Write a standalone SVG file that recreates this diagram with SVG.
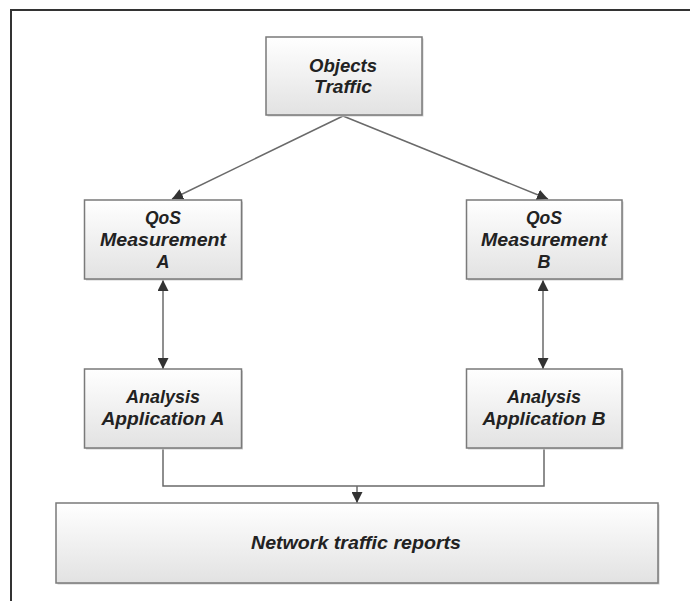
<svg xmlns="http://www.w3.org/2000/svg" width="690" height="601" viewBox="0 0 690 601">
<defs>
<linearGradient id="g" x1="0" y1="0" x2="0" y2="1">
<stop offset="0" stop-color="#ffffff"/>
<stop offset="1" stop-color="#e2e2e2"/>
</linearGradient>
<marker id="ah" viewBox="0 0 10 10" refX="10" refY="5" markerWidth="11" markerHeight="11" markerUnits="userSpaceOnUse" orient="auto-start-reverse">
<path d="M0,0 L10,5 L0,10 Z" fill="#333"/>
</marker>
<style>
.box{fill:url(#g);stroke:#7a7a7a;stroke-width:1.5}
.sh{fill:#cfcfcf}
.t{font-family:"Liberation Sans",Arial,sans-serif;font-weight:bold;font-style:italic;font-size:17.5px;fill:#222;text-anchor:middle}
.c{fill:none;stroke:#6a6a6a;stroke-width:1.5}
</style>
</defs>
<rect width="690" height="601" fill="#fff"/>
<path d="M11,601 V10 H690" fill="none" stroke="#333" stroke-width="2"/>
<g id="connectors">
<path class="c" d="M343,116 L172,199" marker-end="url(#ah)"/>
<path class="c" d="M343,116 L548,199" marker-end="url(#ah)"/>
<path class="c" d="M163,280 V369" marker-start="url(#ah)" marker-end="url(#ah)"/>
<path class="c" d="M543,280 V369" marker-start="url(#ah)" marker-end="url(#ah)"/>
<path class="c" d="M163,448 V486 H544 V448"/>
<path class="c" d="M357,486 V503" marker-end="url(#ah)"/>
</g>
<g id="objects-traffic">
<rect class="sh" x="267.5" y="38.5" width="156" height="78"/>
<rect class="box" x="266" y="37" width="156" height="78"/>
<text class="t" x="343" y="72" textLength="68" lengthAdjust="spacingAndGlyphs">Objects</text>
<text class="t" x="343" y="93" textLength="58" lengthAdjust="spacingAndGlyphs">Traffic</text>
</g>
<g id="qos-a">
<rect class="sh" x="86" y="201.5" width="157" height="79"/>
<rect class="box" x="84.5" y="200" width="157" height="79"/>
<text class="t" x="163" y="224" textLength="36" lengthAdjust="spacingAndGlyphs">QoS</text>
<text class="t" x="163" y="246" textLength="126" lengthAdjust="spacingAndGlyphs">Measurement</text>
<text class="t" x="163" y="268" textLength="13" lengthAdjust="spacingAndGlyphs">A</text>
</g>
<g id="qos-b">
<rect class="sh" x="468" y="201.5" width="155.5" height="79"/>
<rect class="box" x="466.5" y="200" width="155.5" height="79"/>
<text class="t" x="544" y="224" textLength="36" lengthAdjust="spacingAndGlyphs">QoS</text>
<text class="t" x="544" y="246" textLength="126" lengthAdjust="spacingAndGlyphs">Measurement</text>
<text class="t" x="544" y="268" textLength="13" lengthAdjust="spacingAndGlyphs">B</text>
</g>
<g id="analysis-a">
<rect class="sh" x="86" y="370.5" width="157" height="79"/>
<rect class="box" x="84.5" y="369" width="157" height="79"/>
<text class="t" x="163" y="403" textLength="74" lengthAdjust="spacingAndGlyphs">Analysis</text>
<text class="t" x="163" y="425" textLength="123" lengthAdjust="spacingAndGlyphs">Application A</text>
</g>
<g id="analysis-b">
<rect class="sh" x="468" y="370.5" width="155.5" height="79"/>
<rect class="box" x="466.5" y="369" width="155.5" height="79"/>
<text class="t" x="544" y="403" textLength="74" lengthAdjust="spacingAndGlyphs">Analysis</text>
<text class="t" x="544" y="425" textLength="123" lengthAdjust="spacingAndGlyphs">Application B</text>
</g>
<g id="network-reports">
<rect class="sh" x="57.5" y="504.5" width="602" height="80"/>
<rect class="box" x="56" y="503" width="602" height="80"/>
<text class="t" x="356" y="549" textLength="210" lengthAdjust="spacingAndGlyphs">Network traffic reports</text>
</g>
</svg>
